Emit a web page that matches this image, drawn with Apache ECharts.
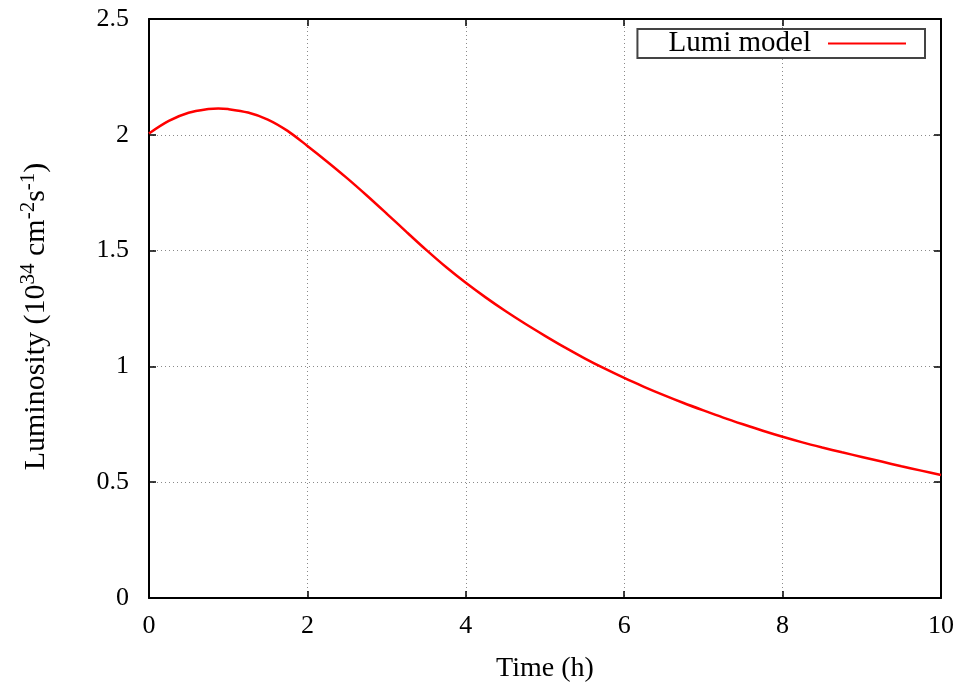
<!DOCTYPE html>
<html>
<head>
<meta charset="utf-8">
<script src="https://cdn.jsdelivr.net/npm/echarts@6/dist/echarts.min.js"></script>
<style>
  html, body { margin: 0; padding: 0; background: #fff; }
  #chart { width: 961px; height: 688px; }
</style>
</head>
<body>
<div id="chart"></div>
<script>
// Luminosity model over the course of a fill (time in hours)
const timeHours = [
  0, 0.25, 0.5, 0.75, 0.875, 1, 1.25, 1.5, 1.75, 2, 2.25, 2.5, 2.75, 3, 3.25, 3.5, 3.75, 4,
  4.25, 4.5, 4.75, 5, 5.25, 5.5, 5.75, 6, 6.25, 6.5, 6.75, 7, 7.25, 7.5, 7.75, 8,
  8.25, 8.5, 8.75, 9, 9.25, 9.5, 9.75, 10
];
const lumiModel = [
  2.006, 2.060, 2.095, 2.111, 2.114, 2.111, 2.096, 2.066, 2.017, 1.952, 1.884, 1.813, 1.738, 1.660, 1.581, 1.503, 1.429, 1.361,
  1.298, 1.239, 1.184, 1.132, 1.082, 1.035, 0.991, 0.950, 0.912, 0.876, 0.842, 0.810, 0.779, 0.750, 0.722, 0.696,
  0.672, 0.650, 0.629, 0.609, 0.589, 0.569, 0.550, 0.531
];
const seriesName = 'Lumi model';
const xTitle = 'Time (h)';

const FONT = '"Liberation Serif", "Times New Roman", serif';

const lumiPoints = timeHours.map((t, i) => [t, lumiModel[i]]);

const gridLine = { show: true, lineStyle: { color: '#8a8a8a', width: 1, type: [1, 3] } };
const frameLine = { show: true, onZero: false, lineStyle: { color: '#000', width: 2 } };
const innerTick = { show: true, inside: true, length: 7, lineStyle: { color: '#000', width: 1.5 } };
const labelStyle = { color: '#000', fontFamily: FONT, fontSize: 26 };

const chart = echarts.init(document.getElementById('chart'), null, { renderer: 'canvas' });
chart.setOption({
  animation: false,
  backgroundColor: '#fff',
  grid: { left: 149, right: 20, top: 19, bottom: 90 },
  legend: {
    data: [seriesName],
    right: 36,
    top: 29,
    align: 'right',
    icon: 'rect',
    itemWidth: 78,
    itemHeight: 2,
    padding: [0, 19, 0, 31],
    borderColor: '#444',
    borderWidth: 2,
    backgroundColor: '#fff',
    textStyle: { color: '#000', fontFamily: FONT, fontSize: 29, lineHeight: 28, padding: [0, 12, 0, 0] }
  },
  xAxis: [
    {
      type: 'value', min: 0, max: 10, interval: 2, position: 'bottom',
      name: xTitle, nameLocation: 'middle', nameGap: 57,
      nameTextStyle: { color: '#000', fontFamily: FONT, fontSize: 28 },
      axisLine: frameLine, axisTick: innerTick,
      axisLabel: Object.assign({ margin: 15 }, labelStyle),
      splitLine: gridLine
    },
    {
      type: 'value', min: 0, max: 10, interval: 2, position: 'top',
      axisLine: frameLine, axisTick: innerTick,
      axisLabel: { show: false }, splitLine: { show: false }
    }
  ],
  yAxis: [
    {
      type: 'value', min: 0, max: 2.5, interval: 0.5, position: 'left',
      name: '{t|Luminosity (10}{s|34}{t| cm}{s|-2}{t|s}{s|-1}{t|)}',
      nameLocation: 'middle', nameGap: 98, nameRotate: 90,
      nameTextStyle: {
        fontFamily: FONT,
        padding: [0, 16, 0, 0],
        rich: {
          t: { color: '#000', fontFamily: FONT, fontSize: 30, lineHeight: 33, verticalAlign: 'bottom' },
          s: { color: '#000', fontFamily: FONT, fontSize: 21, lineHeight: 33, verticalAlign: 'top' }
        }
      },
      axisLine: frameLine, axisTick: innerTick,
      axisLabel: Object.assign({ margin: 20 }, labelStyle),
      splitLine: gridLine
    },
    {
      type: 'value', min: 0, max: 2.5, interval: 0.5, position: 'right',
      axisLine: frameLine, axisTick: innerTick,
      axisLabel: { show: false }, splitLine: { show: false }
    }
  ],
  series: [
    {
      name: seriesName,
      type: 'line',
      data: lumiPoints,
      smooth: 0.3,
      symbol: 'none',
      itemStyle: { color: '#ff0000' },
      lineStyle: { color: '#ff0000', width: 2.5 },
      z: 5
    }
  ]
});
</script>
</body>
</html>
